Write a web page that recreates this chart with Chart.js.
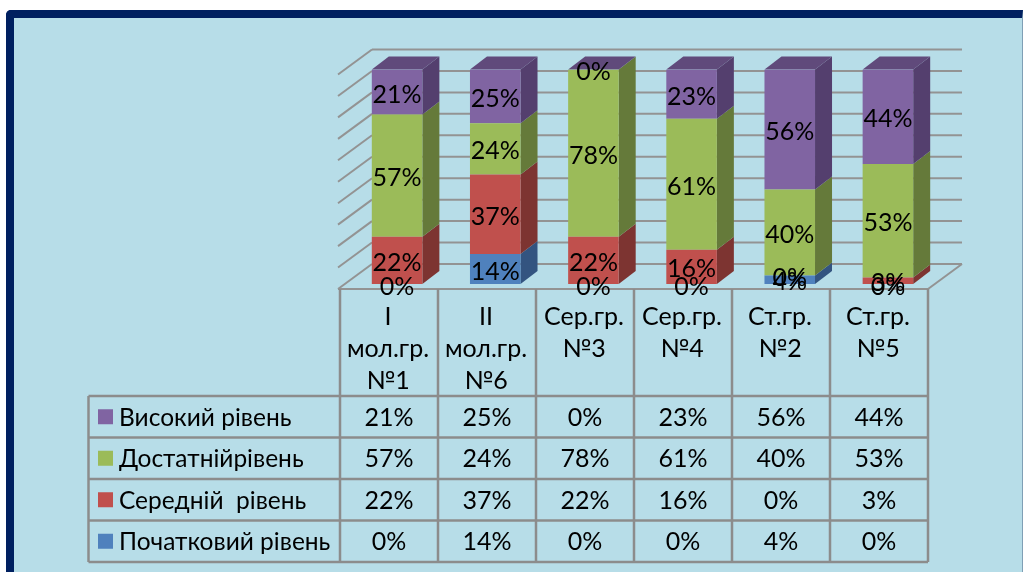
<!DOCTYPE html>
<html>
<head>
<meta charset="utf-8">
<title>Рівні по групах</title>
<script src="https://cdn.jsdelivr.net/npm/chart.js@4"></script>
<style>
  html, body { margin: 0; padding: 0; background: #fff; }
  #page { position: relative; width: 1023px; height: 572px; overflow: hidden; }
  #frame {
    position: absolute; left: 6px; top: 10px; width: 1008px; height: 580px;
    background: #b7dde8; border: 8px solid #002060; border-right: 1px solid #7f9fb5;
    border-top-left-radius: 5px;
  }
  canvas { position: absolute; left: 0; top: 0; }
</style>
</head>
<body>
<div id="page">
  <div id="frame"></div>
  <canvas id="chart" width="1023" height="572"></canvas>
</div>
<script>
const categories = [["I", "мол.гр.", "№1"], ["II", "мол.гр.", "№6"], ["Сер.гр.", "№3"], ["Сер.гр.", "№4"], ["Ст.гр.", "№2"], ["Ст.гр.", "№5"]];
const seriesNames = ["Початковий рівень", "Середній  рівень", "Достатнійрівень", "Високий рівень"];
const pochatkovyi = [0, 14, 0, 0, 4, 0];
const serednii = [22, 37, 22, 16, 0, 3];
const dostatnii = [57, 24, 78, 61, 40, 53];
const vysokyi = [21, 25, 0, 23, 56, 44];
const yTicks = [0, 10, 20, 30, 40, 50, 60, 70, 80, 90, 100];

const frontColors = ["#4f81bd", "#c0504d", "#9bbb59", "#8064a2"];
const sideColors = ["#335480", "#7d3431", "#657a3a", "#543f6e"];
const topColor = "#604a7b";
const gridColor = "#939393";
const textFont = "Lato, 'Noto Sans', sans-serif";
const labelSize = 25;
const legendSize = 24.5;

const allValues = [pochatkovyi, serednii, dostatnii, vysokyi];

// table rows and columns
const colX = [340, 438, 536, 634, 732, 830, 928];
const rowY = [396, 437.5, 479, 520.5, 562];
const tableLeft = 88.5;

const pct = v => v + "%";

function line(ctx, x1, y1, x2, y2) {
  ctx.beginPath();
  ctx.moveTo(x1, y1);
  ctx.lineTo(x2, y2);
  ctx.stroke();
}

function poly(ctx, pts, color) {
  ctx.fillStyle = color;
  ctx.beginPath();
  pts.forEach((p, i) => i ? ctx.lineTo(p[0], p[1]) : ctx.moveTo(p[0], p[1]));
  ctx.closePath();
  ctx.fill();
}

const box3d = {
  id: "box3d",
  beforeDatasetsDraw(chart) {
    const ctx = chart.ctx;
    const y = chart.scales.y;
    ctx.save();
    ctx.strokeStyle = gridColor;
    ctx.lineWidth = 2;
    // back wall and left wall
    yTicks.forEach(t => {
      const yb = y.getPixelForValue(t) - 20;
      line(ctx, 372, yb, 962, yb);
      line(ctx, 338, yb + 25, 372, yb);
    });
    // floor
    line(ctx, 338, 289, 928, 289);
    line(ctx, 928, 289, 962, 264);
    // side and top faces of the bars
    const dx = 17, dy = 13;
    chart.data.datasets.forEach((ds, d) => {
      chart.getDatasetMeta(d).data.forEach(bar => {
        const r = bar.x + bar.width / 2;
        poly(ctx, [[r, bar.base], [r + dx, bar.base - dy], [r + dx, bar.y - dy], [r, bar.y]], sideColors[d]);
      });
    });
    const last = chart.getDatasetMeta(chart.data.datasets.length - 1).data;
    last.forEach(bar => {
      const l = bar.x - bar.width / 2, r = bar.x + bar.width / 2;
      poly(ctx, [[l, bar.y], [l + dx, bar.y - dy], [r + dx, bar.y - dy], [r, bar.y]], topColor);
    });
    ctx.restore();
  },
  afterDatasetsDraw(chart) {
    const ctx = chart.ctx;
    ctx.save();
    ctx.fillStyle = "#000";
    ctx.textAlign = "center";
    ctx.textBaseline = "middle";
    ctx.font = labelSize + "px " + textFont;
    // value labels on the bars
    chart.data.datasets.forEach((ds, d) => {
      chart.getDatasetMeta(d).data.forEach((bar, i) => {
        ctx.fillText(pct(ds.data[i]), bar.x, (bar.y + bar.base) / 2 + 2.5);
      });
    });
    drawTable(ctx);
    ctx.restore();
  }
};

function drawTable(ctx) {
  ctx.strokeStyle = "#8c8c8c";
  ctx.lineWidth = 2.5;
  colX.forEach(x => line(ctx, x, 289, x, rowY[4]));
  rowY.forEach(y => line(ctx, tableLeft, y, colX[6], y));
  line(ctx, tableLeft, rowY[0], tableLeft, rowY[4]);

  ctx.fillStyle = "#000";
  ctx.textAlign = "center";
  ctx.textBaseline = "middle";
  categories.forEach((lines, c) => {
    const cx = (colX[c] + colX[c + 1]) / 2 - 1;
    lines.forEach((txt, n) => ctx.fillText(txt, cx, 317 + n * 32));
  });

  // rows run from the top series down
  for (let r = 0; r < 4; r++) {
    const s = 3 - r;
    const cy = (rowY[r] + rowY[r + 1]) / 2;
    ctx.fillStyle = frontColors[s];
    ctx.fillRect(98, cy - 7.5, 15, 15);
    ctx.fillStyle = "#000";
    ctx.textAlign = "left";
    ctx.font = legendSize + "px " + textFont;
    ctx.fillText(seriesNames[s], 119, cy + 1);
    ctx.textAlign = "center";
    ctx.font = labelSize + "px " + textFont;
    allValues[s].forEach((v, c) => {
      ctx.fillText(pct(v), (colX[c] + colX[c + 1]) / 2, cy + 1);
    });
  }
}

new Chart(document.getElementById("chart"), {
  type: "bar",
  data: {
    labels: categories.map(c => c.join(" ")),
    datasets: seriesNames.map((name, i) => ({
      label: name,
      data: allValues[i],
      backgroundColor: frontColors[i],
      borderWidth: 0,
      categoryPercentage: 0.515,
      barPercentage: 1
    }))
  },
  options: {
    responsive: false,
    animation: false,
    layout: { padding: { left: 348, right: 86, top: 69.5, bottom: 288 } },
    plugins: { legend: { display: false }, tooltip: { enabled: false } },
    scales: {
      x: { stacked: true, display: false },
      y: { stacked: true, display: false, min: 0, max: 100 }
    }
  },
  plugins: [box3d]
});
</script>
</body>
</html>
